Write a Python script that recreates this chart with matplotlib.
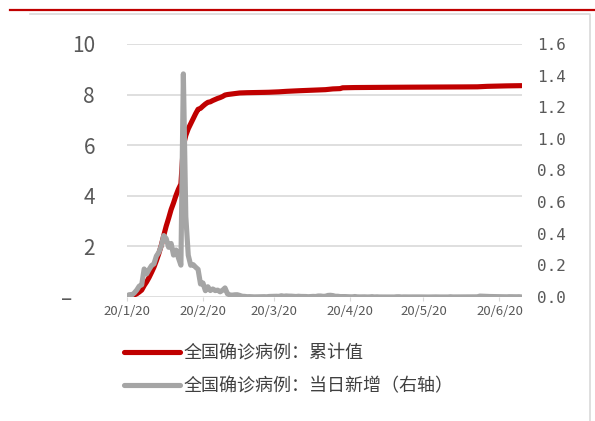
import matplotlib
matplotlib.use("Agg")
import matplotlib.pyplot as plt
from matplotlib.lines import Line2D
from matplotlib.transforms import ScaledTranslation
import numpy as np
import pandas as pd

plt.rcParams['font.family'] = ['Noto Sans CJK SC', 'DejaVu Sans']

# Daily dates, 2020-01-20 .. 2020-06-29
dates = pd.date_range("2020-01-20", "2020-06-29", freq="D")

# National confirmed cases, cumulative (persons), by month
cum_jan = [291, 440, 571, 830, 1287, 1975, 2744, 4515, 5974, 7711, 9692, 11791]
cum_feb = [14380, 17205, 20438, 24324, 28018, 31161, 34546, 37198, 40171, 42638,
           44653, 59804, 63851, 66492, 68500, 70548, 72436, 74185, 74576, 75465,
           76288, 76936, 77150, 77658, 78064, 78497, 78824, 79251, 79824]
cum_mar = [80026, 80151, 80270, 80409, 80552, 80651, 80695, 80735, 80754, 80778,
           80793, 80813, 80824, 80844, 80860, 80881, 80894, 80928, 80967, 81008,
           81054, 81093, 81171, 81218, 81285, 81340, 81394, 81439, 81470, 81518,
           81554]
cum_apr = [81589, 81620, 81639, 81669, 81708, 81740, 81802, 81865, 81907, 81953,
           82052, 82160, 82249, 82295, 82341, 82367, 82692, 82719, 82735, 82747,
           82758, 82788, 82798, 82804, 82816, 82827, 82830, 82836, 82858, 82862]
cum_may = [82874, 82877, 82880, 82883, 82885, 82886, 82887, 82887, 82901, 82918,
           82919, 82926, 82929, 82933, 82941, 82947, 82954, 82960, 82965, 82967,
           82971, 82971, 82974, 82985, 82992, 82993, 82995, 82995, 82999, 83001,
           83017]
cum_jun = [83021, 83022, 83027, 83030, 83036, 83040, 83043, 83046, 83057, 83064,
           83075, 83132, 83181, 83221, 83265, 83293, 83325, 83352, 83378, 83396,
           83418, 83430, 83449, 83462, 83483, 83500, 83512, 83531, 83534]

# National confirmed cases, new per day (persons), by month
new_jan = [77, 149, 131, 259, 444, 688, 769, 1771, 1459, 1737, 1981, 2099]
new_feb = [2589, 2825, 3233, 3886, 3694, 3143, 3385, 2652, 2973, 2467,
           2015, 14108, 5090, 2641, 2008, 2048, 1886, 1749, 820, 889,
           397, 648, 409, 508, 406, 433, 327, 427, 573]
new_mar = [202, 125, 119, 139, 143, 99, 44, 40, 19, 24,
           15, 8, 11, 20, 16, 21, 13, 34, 39, 41,
           46, 39, 78, 47, 67, 55, 54, 45, 31, 48, 36]
new_apr = [35, 31, 19, 30, 39, 32, 62, 63, 42, 46,
           99, 108, 89, 46, 46, 26, 27, 27, 16, 12,
           11, 30, 10, 6, 12, 11, 3, 6, 22, 4]
new_may = [12, 3, 3, 3, 2, 1, 1, 0, 14, 17,
           1, 7, 3, 4, 8, 6, 7, 6, 5, 2,
           4, 0, 3, 11, 7, 1, 2, 0, 4, 2, 16]
new_jun = [4, 1, 5, 5, 6, 4, 3, 3, 11, 7,
           11, 57, 49, 40, 28, 32, 26, 26, 22, 18,
           19, 13, 12, 21, 17, 12, 14, 19, 3]

cumulative = np.array(cum_jan + cum_feb + cum_mar + cum_apr + cum_may + cum_jun) / 1e4
daily_new = np.array(new_jan + new_feb + new_mar + new_apr + new_may + new_jun) / 1e4

left_ticks = [0, 2, 4, 6, 8, 10]
left_labels = ["–", "2", "4", "6", "8", "10"]
right_ticks = [0.0, 0.2, 0.4, 0.6, 0.8, 1.0, 1.2, 1.4, 1.6]
x_ticks = pd.to_datetime(["2020-01-20", "2020-02-20", "2020-03-20",
                          "2020-04-20", "2020-05-20", "2020-06-20"])
x_labels = ["20/1/20", "20/2/20", "20/3/20", "20/4/20", "20/5/20", "20/6/20"]

label_cum = "全国确诊病例：累计值"
label_new = "全国确诊病例：当日新增（右轴）"

RED = "#C00000"
GRAY = "#A5A5A5"
GRID = "#D9D9D9"
TXT = "#595959"

W, H = 595, 421
fig = plt.figure(figsize=(W / 100, H / 100), dpi=100)
ax = fig.add_axes([127 / W, 1 - 297 / H, 394.5 / W, 253 / H])
ax2 = ax.twinx()

l1, = ax.plot(dates, cumulative, color=RED, lw=3.7, solid_capstyle="round",
              solid_joinstyle="round", label=label_cum, zorder=3)
l2, = ax2.plot(dates, daily_new, color=GRAY, lw=3.7, solid_capstyle="round",
               solid_joinstyle="round", label=label_new, zorder=3)

ax.set_xlim(dates[0], dates[-1])
ax.set_ylim(0, 10)
ax2.set_ylim(0, 1.6)

ax.set_yticks(left_ticks)
ax.set_yticklabels(left_labels)
ax2.set_yticks(right_ticks)
ax2.set_yticklabels([f"{v:.1f}" for v in right_ticks])

ax.set_xticks(x_ticks)
ax.set_xticklabels(x_labels)

ax.grid(axis="y", color=GRID, lw=1.2)
ax.set_axisbelow(True)
for a in (ax, ax2):
    for s in a.spines.values():
        s.set_visible(False)

ax.tick_params(axis="y", length=0, pad=23, labelsize=15, labelcolor=TXT)
ax2.tick_params(axis="y", length=0, pad=11, labelsize=11.5, labelcolor=TXT)
for t in ax2.get_yticklabels():
    t.set_fontfamily("DejaVu Sans Mono")
ax.tick_params(axis="x", length=3, width=0.8, color=GRID, pad=3,
               labelsize=9.5, labelcolor=TXT)

# dash for zero sits further left than the numeric labels
zero_lbl = ax.get_yticklabels()[0]
zero_lbl.set_transform(zero_lbl.get_transform() +
                       ScaledTranslation(-23 / 100, 0, fig.dpi_scale_trans))

leg = ax2.legend(handles=[l1, l2], loc="center left",
                 bbox_to_anchor=(124 / W, 1 - 370 / H),
                 bbox_transform=fig.transFigure, frameon=False,
                 fontsize=13, handlelength=3.1, handletextpad=0.2,
                 labelspacing=0.85, borderpad=0, borderaxespad=0)
for t in leg.get_texts():
    t.set_color("#404040")

# header rule and frame
fig.add_artist(Line2D([10 / W, 1], [1 - 10 / H, 1 - 10 / H],
                      transform=fig.transFigure, color=RED, lw=1.6))
fig.add_artist(Line2D([30 / W, 590 / W, 590 / W],
                      [1 - 14 / H, 1 - 14 / H, 0],
                      transform=fig.transFigure, color=GRID, lw=1.2))

fig.savefig("out.png", dpi=100)
